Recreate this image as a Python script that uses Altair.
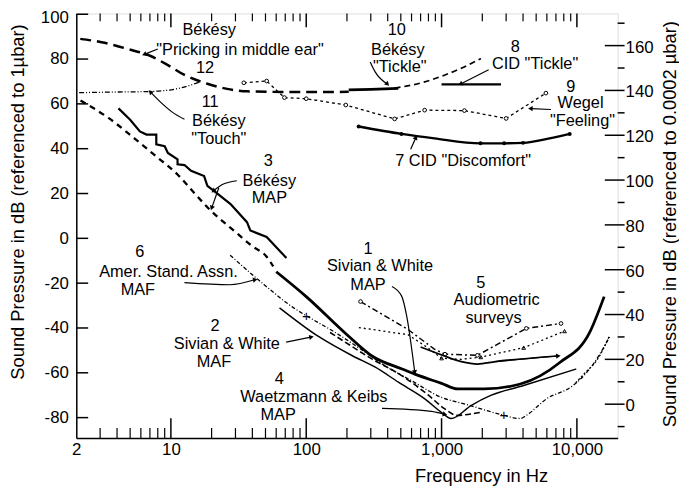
import math
import altair as alt
import pandas as pd

FONT = "Liberation Sans"
W, H = 547, 429
XDOM = [2, 20000]
YDOM = [-89.1, 100.35]
OFFSET = 74  # dB re 0.0002 µbar = dB re 1 µbar + 74

# ---------------- curves (frequency Hz, dB re 1 µbar) ----------------
pricking_f = [2.14, 3.08, 4.85, 6.8, 9.5, 12.6, 18.6, 26, 36.5, 80, 150, 206]
pricking_db = [89.0, 87.5, 84.4, 81.8, 77.3, 72.9, 69.0, 66.7, 65.6, 65.3, 65.3, 65.4]

touch_f = [2.1, 4.1, 6.8, 11.2, 16.6]
touch_db = [65.0, 65.3, 65.5, 66.8, 69.9]

wegel_f = [34.6, 51, 69, 100, 196, 450, 750, 1475, 3000, 5900]
wegel_db = [69.4, 70.2, 62.8, 62.3, 59.5, 53.3, 57.2, 57.0, 53.5, 64.8]

discomfort_f = [244, 505, 884, 1940, 2900, 4000, 6280, 8850]
discomfort_db = [49.9, 46.6, 44.6, 42.4, 42.4, 42.6, 44.6, 46.6]
discomfort_dot_f = [244, 505, 1940, 2900, 4000, 8850]
discomfort_dot_db = [49.9, 46.6, 42.4, 42.4, 42.6, 46.6]

tickle10_f = [206, 300, 479]
tickle10_db = [66.2, 66.5, 66.9]

cid_tickle_dash_f = [450, 750, 1050, 1470, 1950]
cid_tickle_dash_db = [67.0, 69.8, 72.8, 76.5, 80.2]
cid_tickle_solid_f = [1000, 2750]
cid_tickle_solid_db = [68.7, 68.7]

stair_f = [4.1, 5.0, 5.9, 6.6, 7.8, 7.8, 9.0, 9.5, 11.2, 11.2, 12.6, 14.1, 17.6,
           18.6, 20.8, 27.6, 36.5, 38.6, 51, 71.4]
stair_db = [58.0, 52.9, 47.7, 46.3, 46.3, 41.9, 41.1, 38.1, 35.2, 33.0, 32.7, 30.1,
            27.8, 23.4, 21.2, 15.3, 7.2, 3.5, 0.6, -8.8]

dashd_f = [2.15, 3.5, 5.4, 8.0, 11.2, 15.0, 19.6, 29.0, 40.0, 51.0, 57.0]
dashd_db = [61.5, 53.5, 44.5, 36.0, 28.5, 20.0, 12.5, 3.6, -3.5, -8.2, -12.5]

sivian_map_f = [60, 100, 200, 308, 511, 635, 1000, 1316, 2063, 3820, 7480, 12400, 15900]
sivian_map_db = [-14.9, -26, -43, -52.6, -58.3, -60.6, -64.7, -67.2, -67.2, -65, -55.4, -42.1, -26]

asa_f = [27.4, 44.3, 84, 100, 164, 274, 380, 600, 1000, 1500, 2063, 2880, 3820, 4230,
         5970, 9350, 12400, 15500, 17550]
asa_db = [-7.5, -18.5, -31.7, -34.5, -42, -50.9, -56.8, -63.5, -71, -74, -76.5, -79,
          -80.4, -79, -71.6, -65.7, -58.3, -49.5, -43.6]

sivian_maf_f = [63.5, 124, 221, 324, 480, 752, 990, 1178, 1650, 2310, 4040, 9890]
sivian_maf_db = [-31, -43.9, -52.5, -57.5, -64.2, -71.6, -77.5, -80.4, -74.6, -70.1, -65.7, -58.3]

waetz_f = [150, 195, 305, 500, 800, 1050, 1300, 1600, 2000]
waetz_db = [-42, -46.4, -53.8, -61, -70, -76, -79, -78.5, -77.5]

aud1_f = [252, 565, 889, 1060, 1840, 4230, 7630]
aud1_db = [-28.2, -40.7, -49.5, -51.7, -52.2, -40.2, -38.0]
aud1_pt_f = [252, 1060, 1840, 4230, 7630]
aud1_pt_db = [-28.2, -51.7, -52.2, -40.2, -38.0]

aud2_f = [245, 565, 800, 1000, 1400, 1950, 4040, 8100]
aud2_db = [-39.8, -43, -49, -53.5, -54, -53, -48.8, -41.4]
aud2_pt_f = [1000, 1950, 4040, 8100]
aud2_pt_db = [-53.5, -53, -48.8, -41.4]

aud3_f = [700, 1000, 1400, 1840, 2500, 7200]
aud3_db = [-48.5, -52, -55, -56.1, -55, -52.5]

edge_dot_f = [9800, 11500, 14000, 17400]
edge_dot_db = [-64.5, -60, -54.5, -43.6]

plus_f = [100, 2880]
plus_db = [-34.5, -79]

# ---------------- labels ----------------
labels = [
    ("Békésy", 19.2, 92.8), ("\"Pricking in middle ear\"", 32.4, 84.0), ("12", 17.9, 76.0),
    ("11", 19.5, 61.0), ("Békésy", 22.6, 52.2), ("\"Touch\"", 22.6, 44.3),
    ("3", 52.5, 34.5), ("Békésy", 53.4, 25.7), ("MAP", 53.4, 17.8),
    ("10", 467, 92.8), ("Békésy", 475, 84.0), ("\"Tickle\"", 491, 76.5),
    ("8", 3510, 85.3), ("CID \"Tickle\"", 4910, 77.8),
    ("9", 9000, 67.7), ("Wegel", 10640, 60.2), ("\"Feeling\"", 11000, 52.2),
    ("7 CID \"Discomfort\"", 1442, 34.5),
    ("6", 5.9, -6.1), ("Amer. Stand. Assn.", 9.6, -14.9), ("MAF", 5.7, -22.9),
    ("2", 21.2, -39.2), ("Sivian & White", 25.9, -47.2), ("MAF", 20.8, -55.1),
    ("4", 63.2, -62.6), ("Waetzmann & Keibs", 114, -70.6), ("MAP", 62, -79.0),
    ("1", 286, -4.8), ("Sivian & White", 351, -12.2), ("MAP", 286, -20.7),
    ("5", 1946, -20.0), ("Audiometric", 2550, -27.6), ("surveys", 2420, -35.4),
]
label_text = [l[0] for l in labels]
label_f = [l[1] for l in labels]
label_db = [l[2] for l in labels]

# annotation leader arrows (last point = tip)
arrows = [
    ([8.0, 6.43], [84.5, 82.2]),
    ([12.6, 10.3, 8.27, 7.11], [53.1, 56.2, 61.1, 65.1]),
    ([30.7, 23.8, 20.8], [25.7, 23.9, 21.3]),
    ([22.6, 20.1], [22.6, 13.8]),
    ([297, 323, 395], [78.7, 74.3, 69.0]),
    ([2228, 1393], [75.2, 69.0]),
    ([6430, 4590], [57.5, 57.9]),
    ([591, 643], [39.8, 44.7]),
    ([12.6, 27.3, 41.5], [-19.8, -20.7, -18.5]),
    ([71.1, 108], [-46.3, -44.1]),
    ([363, 841, 1047], [-75.9, -77.2, -78.5]),
    ([430, 508, 553, 633], [-21.5, -25.9, -34.8, -59.5]),
    (aud3_f[-2:], aud3_db[-2:]),
]

# ---------------- axes ticks ----------------
left_ticks = list(range(-80, 101, 20))
right_major = list(range(0, 161, 20))
right_minor = list(range(-10, 171, 20))
x_labels = [2, 10, 100, 1000, 10000]
x_major = [10, 100, 1000, 10000]
x_minor = [m * d for d in (1, 10, 100, 1000) for m in range(2, 10) if 2 < m * d < 20000]
left_title = "Sound Pressure in dB (referenced to 1µbar)"
right_title = "Sound Pressure in dB (referenced to 0.0002 µbar)"
x_title = "Frequency in Hz"

xscale = alt.Scale(type="log", domain=XDOM, nice=False)
yscale = alt.Scale(domain=YDOM, nice=False)

left_axis = alt.Axis(
    values=left_ticks, ticks=False, grid=False, labelFont=FONT, labelFontSize=17,
    labelColor="black", labelPadding=8, labelExpr="'' + datum.value",
    labelOffset={"condition": {"test": "datum.value == 100", "value": 3}, "value": 0},
    domainColor="black", domainWidth=1.5,
    title=left_title, titleFont=FONT,
    titleFontSize=18.5, titleFontWeight="normal", titleColor="black",
    titleAngle=270, titleAlign="center", titleBaseline="middle", titleX=-59, titleY=190,
)
bottom_axis = alt.Axis(
    values=x_labels, ticks=False, grid=False, format=",", labelFont=FONT, labelFontSize=17,
    labelColor="black", labelPadding=4, labelFlush=False, labelOverlap=False,
    domainColor="black", domainWidth=1.5,
    title=x_title, titleFont=FONT, titleFontSize=18.5, titleFontWeight="normal",
    titleColor="black", titleAlign="center", titleBaseline="middle", titleX=409, titleY=38,
)


def X():
    return alt.X("f:Q", scale=xscale, axis=bottom_axis)


def Y():
    return alt.Y("db:Q", scale=yscale, axis=left_axis)


def line(f, db, width=1.5, dash=None, interp="monotone"):
    df = pd.DataFrame({"f": f, "db": db, "i": list(range(len(f)))})
    kw = dict(color="black", strokeWidth=width, interpolate=interp)
    if dash:
        kw["strokeDash"] = dash
    return alt.Chart(df).mark_line(**kw).encode(x=X(), y=Y(), order="i:Q")


def points(f, db, **kw):
    df = pd.DataFrame({"f": f, "db": db})
    return alt.Chart(df).mark_point(**kw).encode(x=X(), y=Y())


def to_px(f, db):
    x = W * (math.log10(f) - math.log10(XDOM[0])) / (math.log10(XDOM[1]) - math.log10(XDOM[0]))
    y = H * (YDOM[1] - db) / (YDOM[1] - YDOM[0])
    return x, y


layers = []
# inward ticks
layers.append(
    alt.Chart(pd.DataFrame({"db": left_ticks})).mark_rule(color="black", strokeWidth=1.5)
    .encode(y=Y(), x=alt.value(0), x2=alt.value(12))
)
layers.append(
    alt.Chart(pd.DataFrame({"f": x_major})).mark_rule(color="black", strokeWidth=1.5)
    .encode(x=X(), y=alt.value(H), y2=alt.value(H - 20))
)
layers.append(
    alt.Chart(pd.DataFrame({"f": x_minor})).mark_rule(color="black", strokeWidth=1.2)
    .encode(x=X(), y=alt.value(H), y2=alt.value(H - 10))
)
layers.append(
    alt.Chart(pd.DataFrame({"f": x_major})).mark_rule(color="black", strokeWidth=1.5)
    .encode(x=X(), y=alt.value(0), y2=alt.value(14))
)
layers.append(
    alt.Chart(pd.DataFrame({"f": x_minor})).mark_rule(color="black", strokeWidth=1.2)
    .encode(x=X(), y=alt.value(0), y2=alt.value(8))
)
# right-hand axis (dB re 0.0002 µbar), drawn through the left scale
right_major_df = pd.DataFrame({"r": right_major})
right_minor_df = pd.DataFrame({"r": right_minor})
layers.append(
    alt.Chart(right_major_df).transform_calculate(db=alt.datum.r - OFFSET)
    .mark_rule(color="black", strokeWidth=1.5)
    .encode(y=Y(), x=alt.value(W - 13), x2=alt.value(W + 7))
)
layers.append(
    alt.Chart(right_minor_df).transform_calculate(db=alt.datum.r - OFFSET)
    .mark_rule(color="black", strokeWidth=1.5)
    .encode(y=Y(), x=alt.value(W), x2=alt.value(W + 7))
)
layers.append(
    alt.Chart(right_major_df).transform_calculate(db=alt.datum.r - OFFSET)
    .mark_text(font=FONT, fontSize=17, color="black", align="left", baseline="middle", dy=2)
    .encode(y=Y(), x=alt.value(W + 8), text="r:Q")
)
layers.append(
    alt.Chart(pd.DataFrame({"t": [right_title]}))
    .mark_text(font=FONT, fontSize=18.5, color="black", align="center", baseline="middle", angle=270)
    .encode(text="t:N", x=alt.value(W + 53), y=alt.value(213))
)

layers.append(line(pricking_f, pricking_db, 2.5, [11, 6]))
layers.append(line(touch_f, touch_db, 1.3, [5, 2, 1, 2, 1, 2]))
layers.append(line(wegel_f, wegel_db, 1.3, [3, 3], "linear"))
layers.append(points(wegel_f, wegel_db, shape="circle", filled=True, fill="white",
                     stroke="black", strokeWidth=1, size=14, opacity=1))
layers.append(line(discomfort_f, discomfort_db, 2.4))
layers.append(points(discomfort_dot_f, discomfort_dot_db, shape="circle", filled=True,
                     color="black", size=16, opacity=1))
layers.append(line(tickle10_f, tickle10_db, 2.8, None, "linear"))
layers.append(line(cid_tickle_dash_f, cid_tickle_dash_db, 1.7, [6, 4]))
layers.append(line(cid_tickle_solid_f, cid_tickle_solid_db, 2.2, None, "linear"))
layers.append(line(stair_f, stair_db, 2.2, None, "linear"))
layers.append(line(dashd_f, dashd_db, 2.3, [6, 5]))
layers.append(line(sivian_map_f, sivian_map_db, 2.8))
layers.append(line(asa_f, asa_db, 1.3, [4, 2, 1, 2]))
layers.append(line(sivian_maf_f, sivian_maf_db, 1.5))
layers.append(line(waetz_f, waetz_db, 1.6, [6, 3]))
layers.append(line(aud1_f, aud1_db, 1.5, [6, 3, 2, 3], "linear"))
layers.append(points(aud1_pt_f, aud1_pt_db, shape="circle", filled=True, fill="white",
                     stroke="black", strokeWidth=1, size=14, opacity=1))
layers.append(line(aud2_f, aud2_db, 1.3, [2, 3], "linear"))
layers.append(points(aud2_pt_f, aud2_pt_db, shape="triangle-up", filled=False,
                     color="black", strokeWidth=1, size=14, opacity=1))
layers.append(line(aud3_f, aud3_db, 1.7))
layers.append(line(edge_dot_f, edge_dot_db, 1.3, [2, 2]))
layers.append(
    alt.Chart(pd.DataFrame({"f": plus_f, "db": plus_db}))
    .mark_text(text="+", font=FONT, fontSize=15, color="black")
    .encode(x=X(), y=Y())
)

# arrows
arrow_rows, head_rows = [], []
for k, (af, adb) in enumerate(arrows):
    for i, (f, d) in enumerate(zip(af, adb)):
        arrow_rows.append({"a": k, "i": i, "f": f, "db": d})
    x0, y0 = to_px(af[-2], adb[-2])
    x1, y1 = to_px(af[-1], adb[-1])
    ang = math.degrees(math.atan2(x1 - x0, -(y1 - y0))) % 360
    head_rows.append({"f": af[-1], "db": adb[-1], "ang": ang})
layers.append(
    alt.Chart(pd.DataFrame(arrow_rows))
    .mark_line(color="black", strokeWidth=1.2, interpolate="monotone")
    .encode(x=X(), y=Y(), detail="a:N", order="i:Q")
)
layers.append(
    alt.Chart(pd.DataFrame(head_rows))
    .mark_point(shape="triangle", filled=True, color="black", size=28, opacity=1)
    .encode(x=X(), y=Y(), angle=alt.Angle("ang:Q", scale=None))
)

# text labels
layers.append(
    alt.Chart(pd.DataFrame({"t": label_text, "f": label_f, "db": label_db}))
    .mark_text(font=FONT, fontSize=16.5, color="black", align="center", baseline="middle")
    .encode(x=X(), y=Y(), text="t:N")
)

chart = (
    alt.layer(*layers)
    .properties(width=W, height=H, autosize=alt.AutoSizeParams(type="none"),
                padding={"left": 69, "top": 3, "right": 62, "bottom": 48})
    .configure_view(stroke="black", strokeWidth=1.5)
    .configure(font=FONT)
)

chart.save("out.html", embed_options={"renderer": "svg", "actions": False})
